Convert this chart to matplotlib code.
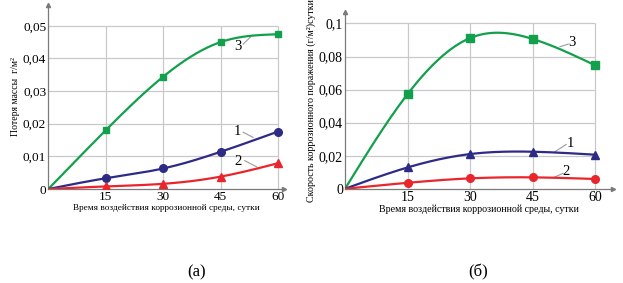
import numpy as np
import matplotlib
matplotlib.use("Agg")
from matplotlib import pyplot as plt

plt.rcParams['font.family'] = ['Liberation Serif', 'DejaVu Serif']

# time, days
days = [0, 15, 30, 45, 60]

# (а) mass loss, g/m2
loss_1 = [0, 0.0033, 0.0063, 0.0114, 0.0176]
loss_2 = [0, 0.0008, 0.0016, 0.0038, 0.0079]
loss_3 = [0, 0.0180, 0.0344, 0.0450, 0.0474]

# (б) corrosion rate, (g/m2)/day
rate_1 = [0, 0.0129, 0.0210, 0.0224, 0.0206]
rate_2 = [0, 0.0036, 0.0063, 0.0069, 0.0059]
rate_3 = [0, 0.0573, 0.0912, 0.0906, 0.0746]

loss_ticks = [0, 0.01, 0.02, 0.03, 0.04, 0.05]
loss_ticklabels = ['0', '0,01', '0,02', '0,03', '0,04', '0,05']
rate_ticks = [0, 0.02, 0.04, 0.06, 0.08, 0.1]
rate_ticklabels = ['0', '0,02', '0,04', '0,06', '0,08', '0,1']
day_ticks = [15, 30, 45, 60]

xlabel = 'Время воздействия коррозионной среды, сутки'

GREEN = '#12a04c'
BLUE = '#2e2b86'
RED = '#e8262c'
GRID = '#c9c9c9'
AXIS = '#7a7a7a'
LEADER = '#9a9a9a'


def spline(x, y, n=200):
    # natural cubic spline, just for drawing the smooth curve
    x = np.asarray(x, float)
    y = np.asarray(y, float)
    k = len(x) - 1
    h = np.diff(x)
    A = np.zeros((k + 1, k + 1))
    b = np.zeros(k + 1)
    A[0, 0] = A[k, k] = 1
    for i in range(1, k):
        A[i, i - 1] = h[i - 1]
        A[i, i] = 2 * (h[i - 1] + h[i])
        A[i, i + 1] = h[i]
        b[i] = 6 * ((y[i + 1] - y[i]) / h[i] - (y[i] - y[i - 1]) / h[i - 1])
    M = np.linalg.solve(A, b)
    xs = np.linspace(x[0], x[-1], n)
    idx = np.clip(np.searchsorted(x, xs) - 1, 0, k - 1)
    x0, x1 = x[idx], x[idx + 1]
    hh = x1 - x0
    ys = (M[idx] * (x1 - xs) ** 3 + M[idx + 1] * (xs - x0) ** 3) / (6 * hh) \
        + (y[idx] / hh - M[idx] * hh / 6) * (x1 - xs) \
        + (y[idx + 1] / hh - M[idx + 1] * hh / 6) * (xs - x0)
    return xs, ys


def setup(ax, xmax, ymax, yticks, yticklabels, fs):
    ax.set_xlim(0, xmax)
    ax.set_ylim(0, ymax)
    for s in ['top', 'right']:
        ax.spines[s].set_visible(False)
    for s in ['left', 'bottom']:
        ax.spines[s].set_color(AXIS)
        ax.spines[s].set_linewidth(0.9)
    ax.hlines(yticks[1:], 0, day_ticks[-1], color=GRID, lw=0.9, zorder=0)
    ax.vlines(day_ticks, 0, yticks[-1], color=GRID, lw=0.9, zorder=0)
    ax.set_xticks(day_ticks)
    ax.set_xticklabels([str(d) for d in day_ticks], fontsize=fs)
    ax.set_yticks(yticks)
    ax.set_yticklabels(yticklabels, fontsize=fs)
    ax.tick_params(length=0, pad=1.5)
    # arrow heads on the axes
    ax.plot(1, 0, '>', color=AXIS, ms=3, transform=ax.transAxes, clip_on=False)
    ax.plot(0, 1, '^', color=AXIS, ms=3, transform=ax.transAxes, clip_on=False)


def curve(ax, y, color, marker, ms):
    xs, ys = spline(days, y)
    ax.plot(xs, ys, color=color, lw=1.6, zorder=3)
    ax.plot(days[1:], y[1:], marker, color=color, ms=ms, zorder=4, lw=0)


def tag(ax, text, xy_text, line_x, line_y, fs=10.5):
    ax.plot(line_x, line_y, color=LEADER, lw=0.8, zorder=2)
    ax.text(xy_text[0], xy_text[1], text, fontsize=fs, ha='center', va='center')


fig = plt.figure(figsize=(6.23, 2.83), dpi=100)

# (а)
ax1 = fig.add_axes([0.0775, 0.332, 0.378, 0.652])
setup(ax1, 61.5, 0.0565, loss_ticks, loss_ticklabels, 9.5)
curve(ax1, loss_3, GREEN, 's', 5)
curve(ax1, loss_1, BLUE, 'o', 5.5)
curve(ax1, loss_2, RED, '^', 5.5)
tag(ax1, '3', (49.6, 0.0436), [50.9, 53.3], [0.0444, 0.0471])
tag(ax1, '1', (49.5, 0.0175), [50.9, 53.5], [0.0174, 0.0158])
tag(ax1, '2', (49.5, 0.0084), [51.3, 54.4], [0.0087, 0.0068])
ax1.set_xlabel(xlabel, fontsize=6.7, labelpad=0.5)
ax1.set_ylabel('Потеря массы  г/м²', fontsize=7, labelpad=2)

# (б)
ax2 = fig.add_axes([0.5538, 0.333, 0.43, 0.625])
setup(ax2, 64.2, 0.107, rate_ticks, rate_ticklabels, 10)
curve(ax2, rate_3, GREEN, 's', 5.5)
curve(ax2, rate_1, BLUE, '^', 5.5)
curve(ax2, rate_2, RED, 'o', 5.5)
tag(ax2, '3', (54.3, 0.0883), [51.5, 53.5], [0.0859, 0.0875])
tag(ax2, '1', (53.9, 0.0275), [50.3, 53.0], [0.0224, 0.0268])
tag(ax2, '2', (53.0, 0.0103), [49.9, 52.2], [0.0067, 0.0093])
ax2.set_xlabel(xlabel, fontsize=7.2, labelpad=0.5)
ax2.set_ylabel('Скорость коррозионного поражения (г/м²)сутки', fontsize=7.2, labelpad=2)

fig.text(197 / 623, 1 - 272 / 283, '(а)', fontsize=12, ha='center', va='center')
fig.text(478 / 623, 1 - 272 / 283, '(б)', fontsize=12, ha='center', va='center')

fig.savefig('out.png', dpi=100, facecolor='white')
